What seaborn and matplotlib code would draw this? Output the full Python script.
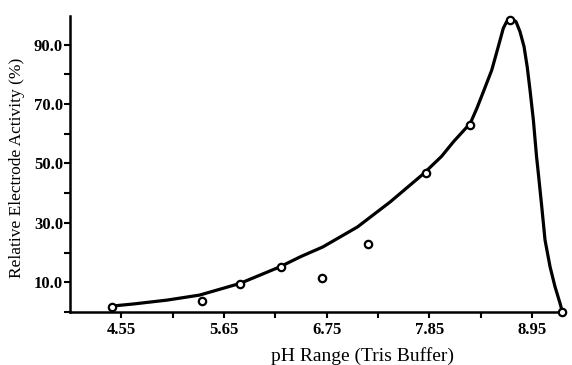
import matplotlib
matplotlib.use("Agg")
import matplotlib.pyplot as plt
import seaborn as sns
import pandas as pd

# measured data points (pH, relative activity %)
point_ph = [4.45, 5.41, 5.82, 6.26, 6.70, 7.19, 7.82, 8.29, 8.72, 9.27]
point_activity = [1.6, 3.8, 9.4, 15.1, 11.6, 22.8, 46.7, 62.8, 98.3, 0.0]

# fitted curve
curve_ph = [4.45, 4.68, 5.04, 5.39, 5.82, 6.25, 6.47, 6.71, 7.08, 7.43, 7.78,
            7.98, 8.11, 8.29, 8.36, 8.43, 8.52, 8.59, 8.644, 8.68, 8.727, 8.78,
            8.823, 8.866, 8.90, 8.93, 8.966, 9.00, 9.019, 9.056, 9.091, 9.145,
            9.198, 9.252, 9.277]
curve_activity = [2.0, 2.7, 4.0, 5.7, 9.6, 15.2, 18.6, 21.9, 28.6, 37.0, 46.3,
                  52.3, 57.3, 63.5, 68.5, 74.1, 81.4, 89.3, 95.5, 97.7, 98.8, 97.7,
                  94.3, 89.3, 82.5, 74.7, 64.6, 52.3, 46.7, 35.4, 24.2, 15.2,
                  8.5, 2.9, 0.0]

x_major = [4.55, 5.65, 6.75, 7.85, 8.95]
x_minor = [5.10, 6.20, 7.30, 8.40]
y_major = [10, 30, 50, 70, 90]
y_minor = [0, 20, 40, 60, 80]

sns.set_theme(style="ticks")
plt.rcParams['font.family'] = ['Liberation Serif', 'DejaVu Serif']

fig = plt.figure(figsize=(5.72, 3.65), dpi=100)
ax = fig.add_axes([70 / 572, 1 - 312 / 365, 495 / 572, 296 / 365])

curve = pd.DataFrame({"pH": curve_ph, "act": curve_activity})
pts = pd.DataFrame({"pH": point_ph, "act": point_activity})

sns.lineplot(data=curve, x="pH", y="act", ax=ax, color="black", linewidth=2.3,
             estimator=None, sort=False, zorder=2)
for line in ax.lines:
    line.set_solid_joinstyle("round")
    line.set_clip_on(False)
sns.scatterplot(data=pts, x="pH", y="act", ax=ax, s=28, marker="o",
                facecolor="white", edgecolor="black", linewidth=1.6, zorder=3,
                clip_on=False)

ax.set_xlim(4.0, 9.305)
ax.set_ylim(0, 99.6)

ax.set_xticks(x_major)
ax.set_xticklabels([f"{v:.2f}" for v in x_major])
ax.set_xticks(x_minor, minor=True)
ax.set_yticks(y_major)
ax.set_yticklabels([f"{v:.1f}" for v in y_major])
ax.set_yticks(y_minor, minor=True)

ax.tick_params(axis="both", which="both", direction="out", color="black",
               width=1.5, labelcolor="black")
ax.tick_params(axis="x", which="major", length=4, pad=3, labelsize=12)
ax.tick_params(axis="x", which="minor", length=4)
ax.tick_params(axis="y", which="major", length=4, pad=1, labelsize=12)
ax.tick_params(axis="y", which="minor", length=4)
for lab in ax.get_xticklabels() + ax.get_yticklabels():
    lab.set_fontweight("bold")

sns.despine(ax=ax)
for s in ("left", "bottom"):
    ax.spines[s].set_linewidth(1.8)
    ax.spines[s].set_color("black")

ax.set_xlabel("pH Range (Tris Buffer)", fontsize=14, color="black")
ax.xaxis.set_label_coords(0.59, -0.118)
ax.set_ylabel("Relative Electrode Activity (%)", fontsize=12.5, color="black")
ax.yaxis.set_label_coords(-0.09, 0.486)

fig.savefig("out.png", dpi=100)
